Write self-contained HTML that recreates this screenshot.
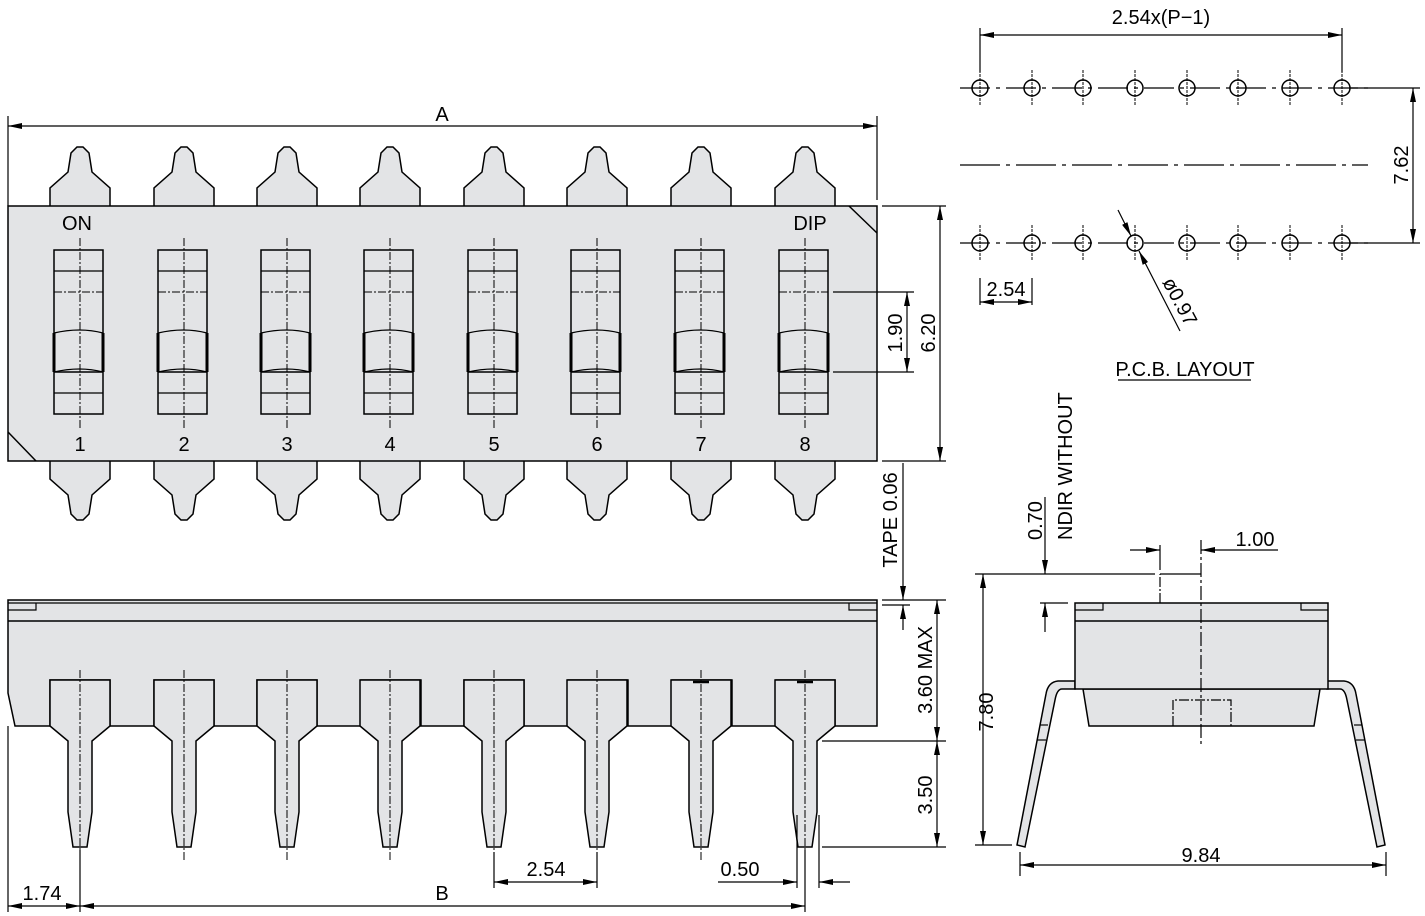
<!DOCTYPE html>
<html><head><meta charset="utf-8"><style>
html,body{margin:0;padding:0;background:#fff;width:1425px;height:916px;overflow:hidden}
svg{display:block;overflow:hidden}
text{font-family:"Liberation Sans",sans-serif;font-size:20px;fill:#000}
</style></head><body>
<svg width="1425" height="916" viewBox="0 0 1425 916" xmlns="http://www.w3.org/2000/svg">
<defs>
<marker id="ar" viewBox="0 0 14 6" refX="14" refY="3" markerWidth="14" markerHeight="6" markerUnits="userSpaceOnUse" orient="auto-start-reverse"><path d="M0,0 L14,3 L0,6 Z" fill="#000"/></marker>
<g id="tt"><path d="M-30,207 V188 L-12,172 L-9,153 L-3,147 H3 L9,153 L12,172 L30,188 V207" fill="#e3e4e6" stroke="#000" stroke-width="1.5"/></g>
<g id="sw">
<rect x="-26" y="250" width="49" height="164" fill="#e3e4e6" stroke="#000" stroke-width="1.5"/>
<line x1="-26" y1="271" x2="23" y2="271" stroke="#000" stroke-width="1.3"/>
<line x1="-26" y1="292" x2="23" y2="292" stroke="#000" stroke-width="1" stroke-dasharray="8,2,2,2"/>
<path d="M-26,333 Q0,327 23,333 M-26,372 Q0,366 23,372" fill="none" stroke="#000" stroke-width="1.2"/>
<line x1="-26" y1="333" x2="-26" y2="372" stroke="#000" stroke-width="3"/>
<line x1="23" y1="333" x2="23" y2="372" stroke="#000" stroke-width="3"/>
<line x1="-26" y1="372" x2="23" y2="372" stroke="#000" stroke-width="1.5"/>
<line x1="-26" y1="393" x2="23" y2="393" stroke="#000" stroke-width="1.3"/>
<line x1="0" y1="238" x2="0" y2="430" stroke="#000" stroke-width="1" stroke-dasharray="8,2,2,2"/>
</g>
<g id="pn"><path d="M-30,680 V726 L-12,741 V812 L-7,847 H7 L12,812 V741 L30,726 V680 Z" fill="#e3e4e6" stroke="#000" stroke-width="1.5"/>
<line x1="0" y1="670" x2="0" y2="860" stroke="#000" stroke-width="1" stroke-dasharray="8,2,2,2"/></g>
<g id="hole"><circle cx="0" cy="0" r="8" fill="none" stroke="#000" stroke-width="1.5"/><line x1="0" y1="-18" x2="0" y2="18" stroke="#000" stroke-width="1" stroke-dasharray="3,1"/></g>
</defs>

<g>
<use href="#tt" x="80"/><use href="#tt" x="184"/><use href="#tt" x="287"/><use href="#tt" x="390"/><use href="#tt" x="494"/><use href="#tt" x="597"/><use href="#tt" x="701"/><use href="#tt" x="805"/>
</g>
<g transform="translate(0,667) scale(1,-1)">
<use href="#tt" x="80"/><use href="#tt" x="184"/><use href="#tt" x="287"/><use href="#tt" x="390"/><use href="#tt" x="494"/><use href="#tt" x="597"/><use href="#tt" x="701"/><use href="#tt" x="805"/>
</g>
<rect x="8" y="206" width="869" height="255" fill="#e3e4e6" stroke="#000" stroke-width="1.5"/>
<line x1="8" y1="432" x2="36" y2="461" stroke="#000" stroke-width="1.5"/>
<line x1="849" y1="206" x2="877" y2="233" stroke="#000" stroke-width="1.5"/>
<use href="#sw" x="80"/><use href="#sw" x="184"/><use href="#sw" x="287"/><use href="#sw" x="390"/><use href="#sw" x="494"/><use href="#sw" x="597"/><use href="#sw" x="701"/><use href="#sw" x="805"/>
<text x="77" y="230" text-anchor="middle">ON</text>
<text x="810" y="230" text-anchor="middle">DIP</text>
<g text-anchor="middle">
<text x="80" y="451">1</text><text x="184" y="451">2</text><text x="287" y="451">3</text><text x="390" y="451">4</text><text x="494" y="451">5</text><text x="597" y="451">6</text><text x="701" y="451">7</text><text x="805" y="451">8</text>
</g>

<g stroke="#000" stroke-width="1.2" fill="none">
<line x1="8" y1="116" x2="8" y2="206"/><line x1="877" y1="116" x2="877" y2="200"/>
<line x1="8" y1="126" x2="877" y2="126" marker-start="url(#ar)" marker-end="url(#ar)"/>
<line x1="882" y1="206" x2="946" y2="206"/><line x1="882" y1="461" x2="946" y2="461"/>
<line x1="940" y1="206" x2="940" y2="461" marker-start="url(#ar)" marker-end="url(#ar)"/>
<line x1="833" y1="292" x2="914" y2="292"/><line x1="833" y1="372" x2="914" y2="372"/>
<line x1="907" y1="292" x2="907" y2="372" marker-start="url(#ar)" marker-end="url(#ar)"/>
<line x1="903" y1="463" x2="903" y2="600" marker-end="url(#ar)"/>
<line x1="903" y1="630" x2="903" y2="605" marker-end="url(#ar)"/>
<line x1="882" y1="600" x2="946" y2="600"/><line x1="882" y1="605" x2="910" y2="605"/>
<line x1="937" y1="600" x2="937" y2="741" marker-start="url(#ar)" marker-end="url(#ar)"/>
<line x1="937" y1="741" x2="937" y2="847" marker-start="url(#ar)" marker-end="url(#ar)"/>
<line x1="822" y1="741" x2="946" y2="741"/><line x1="822" y1="847" x2="946" y2="847"/>
</g>
<g text-anchor="middle">
<text x="442" y="121">A</text>
<text transform="translate(935,333) rotate(-90)">6.20</text>
<text transform="translate(902,333) rotate(-90)">1.90</text>
<text transform="translate(897,520) rotate(-90)">TAPE  0.06</text>
<text transform="translate(932,670) rotate(-90)">3.60  MAX</text>
<text transform="translate(932,795) rotate(-90)">3.50</text>
</g>

<path d="M8,600 H877 V726 H776 V680 H835 V726 H732 V680 H672 V726 H628 V680 H568 V726 H524 V680 H464 V726 H421 V680 H361 V726 H317 V680 H257 V726 H214 V680 H154 V726 H110 V680 H50 V726 H15 L8,693 Z" fill="#e3e4e6" stroke="#000" stroke-width="1.5"/>
<use href="#pn" x="80"/><use href="#pn" x="184"/><use href="#pn" x="287"/><use href="#pn" x="390"/><use href="#pn" x="494"/><use href="#pn" x="597"/><use href="#pn" x="701"/><use href="#pn" x="805"/>
<g stroke="#000" stroke-width="1.2" fill="none">
<line x1="8" y1="603" x2="877" y2="603"/>
<line x1="8" y1="621" x2="877" y2="621" stroke-width="1.5"/>
<path d="M8,610 H36 V603 M877,610 H849 V603"/>
<line x1="693" y1="682" x2="709" y2="682" stroke-width="2.5"/>
<line x1="797" y1="682" x2="813" y2="682" stroke-width="2.5"/>
<line x1="8" y1="726" x2="8" y2="912"/><line x1="80" y1="850" x2="80" y2="912"/><line x1="805" y1="850" x2="805" y2="912"/>
<line x1="80" y1="906" x2="805" y2="906" marker-start="url(#ar)" marker-end="url(#ar)"/>
<line x1="8" y1="906" x2="80" y2="906" marker-start="url(#ar)" marker-end="url(#ar)"/>
<line x1="494" y1="852" x2="494" y2="888"/><line x1="597" y1="852" x2="597" y2="888"/>
<line x1="494" y1="882" x2="597" y2="882" marker-start="url(#ar)" marker-end="url(#ar)"/>
<line x1="797" y1="815" x2="797" y2="888"/><line x1="819" y1="815" x2="819" y2="888"/>
<line x1="718" y1="882" x2="797" y2="882" marker-end="url(#ar)"/>
<line x1="850" y1="882" x2="819" y2="882" marker-end="url(#ar)"/>
</g>
<text x="42" y="900" text-anchor="middle">1.74</text>
<text x="442" y="900" text-anchor="middle">B</text>
<text x="546" y="876" text-anchor="middle">2.54</text>
<text x="740" y="876" text-anchor="middle">0.50</text>

<g stroke="#000" stroke-width="1.2" fill="none">
<line x1="960" y1="88" x2="1368" y2="88" stroke-dasharray="30,6,4,6"/>
<line x1="960" y1="243" x2="1368" y2="243" stroke-dasharray="30,6,4,6"/>
<line x1="960" y1="165" x2="1368" y2="165" stroke-dasharray="40,6,4,6"/>
<line x1="980" y1="28" x2="980" y2="72"/><line x1="1342" y1="28" x2="1342" y2="72"/>
<line x1="980" y1="35" x2="1342" y2="35" marker-start="url(#ar)" marker-end="url(#ar)"/>
<line x1="1350" y1="88" x2="1420" y2="88"/><line x1="1350" y1="243" x2="1420" y2="243"/>
<line x1="1413" y1="88" x2="1413" y2="243" marker-start="url(#ar)" marker-end="url(#ar)"/>
<line x1="980" y1="278" x2="980" y2="305"/><line x1="1032" y1="278" x2="1032" y2="305"/>
<line x1="980" y1="302" x2="1032" y2="302" marker-start="url(#ar)" marker-end="url(#ar)"/>
<line x1="1118" y1="210" x2="1131" y2="236" marker-end="url(#ar)"/>
<line x1="1180" y1="331" x2="1139" y2="251" marker-end="url(#ar)"/>
<line x1="1118" y1="380" x2="1251" y2="380"/>
</g>
<g>
<use href="#hole" x="980" y="88"/><use href="#hole" x="1032" y="88"/><use href="#hole" x="1083" y="88"/><use href="#hole" x="1135" y="88"/><use href="#hole" x="1187" y="88"/><use href="#hole" x="1238" y="88"/><use href="#hole" x="1290" y="88"/><use href="#hole" x="1342" y="88"/>
<use href="#hole" x="980" y="243"/><use href="#hole" x="1032" y="243"/><use href="#hole" x="1083" y="243"/><use href="#hole" x="1135" y="243"/><use href="#hole" x="1187" y="243"/><use href="#hole" x="1238" y="243"/><use href="#hole" x="1290" y="243"/><use href="#hole" x="1342" y="243"/>
</g>
<text x="1161" y="24" text-anchor="middle">2.54x(P−1)</text>
<text transform="translate(1408,165) rotate(-90)" text-anchor="middle">7.62</text>
<text x="1006" y="296" text-anchor="middle">2.54</text>
<text transform="translate(1162,282) rotate(62)">ø0.97</text>
<text x="1185" y="376" text-anchor="middle">P.C.B.  LAYOUT</text>

<path d="M1075,681 H1058 Q1048,682 1046,694 L1017,845 L1025,847 L1055,700 Q1057,689 1062,689 H1075 Z" fill="#e3e4e6" stroke="#000" stroke-width="1.5"/>
<path d="M1327,681 H1344 Q1354,682 1356,694 L1385,845 L1377,847 L1347,700 Q1345,689 1340,689 H1327 Z" fill="#e3e4e6" stroke="#000" stroke-width="1.5"/>
<g stroke="#000" stroke-width="1.2"><line x1="1040" y1="725" x2="1048" y2="725"/><line x1="1037" y1="740" x2="1046" y2="740"/><line x1="1354" y1="725" x2="1362" y2="725"/><line x1="1356" y1="740" x2="1365" y2="740"/></g>
<path d="M1083,689 L1089,726 H1314 L1320,689 Z" fill="#e3e4e6" stroke="#000" stroke-width="1.5"/>
<rect x="1075" y="603" width="253" height="86" fill="#e3e4e6" stroke="#000" stroke-width="1.5"/>
<g stroke="#000" stroke-width="1.2" fill="none">
<line x1="1075" y1="621" x2="1328" y2="621" stroke-width="1.5"/>
<path d="M1075,610 H1103 V603 M1328,610 H1301 V603"/>
<path d="M1173,726 V700 H1231 V726" stroke-dasharray="10,2,2,2"/>
<path d="M1160,603 V574" stroke-dasharray="10,2,2,2"/>
<line x1="1160" y1="574" x2="1201" y2="574"/>
<line x1="1201" y1="540" x2="1201" y2="744" stroke-dasharray="14,3,3,3"/>
<line x1="975" y1="574" x2="1155" y2="574"/><line x1="975" y1="845" x2="1012" y2="845"/>
<line x1="983" y1="574" x2="983" y2="845" marker-start="url(#ar)" marker-end="url(#ar)"/>
<line x1="1045" y1="497" x2="1045" y2="574" marker-end="url(#ar)"/>
<line x1="1045" y1="632" x2="1045" y2="603" marker-end="url(#ar)"/>
<line x1="1040" y1="603" x2="1068" y2="603"/>
<line x1="1160" y1="545" x2="1160" y2="570"/>
<line x1="1130" y1="550" x2="1160" y2="550" marker-end="url(#ar)"/>
<line x1="1278" y1="550" x2="1201" y2="550" marker-end="url(#ar)"/>
<line x1="1020" y1="852" x2="1020" y2="876"/><line x1="1386" y1="852" x2="1386" y2="876"/>
<line x1="1020" y1="865" x2="1386" y2="865" marker-start="url(#ar)" marker-end="url(#ar)"/>
</g>
<text transform="translate(1042,540) rotate(-90)">0.70</text>
<text transform="translate(1072,540) rotate(-90)">NDIR  WITHOUT</text>
<text x="1255" y="546" text-anchor="middle">1.00</text>
<text transform="translate(993,712) rotate(-90)" text-anchor="middle">7.80</text>
<text x="1201" y="862" text-anchor="middle">9.84</text>
</svg>
</body></html>
